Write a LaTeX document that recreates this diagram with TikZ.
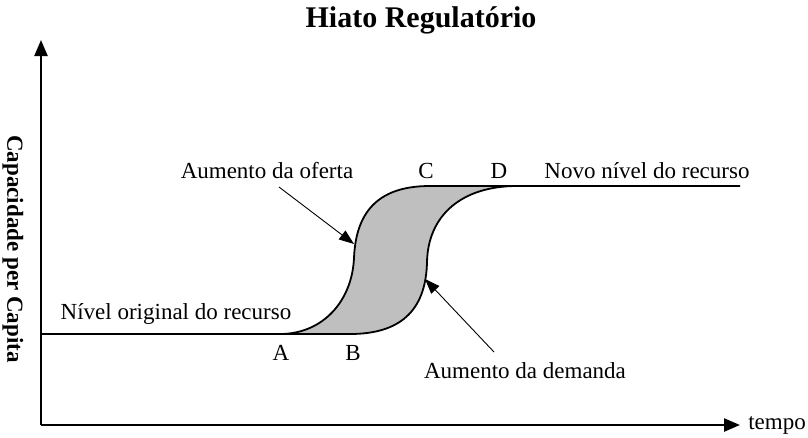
\documentclass[tikz,border=0pt]{standalone}
\usepackage{fontspec}
\setmainfont{Liberation Serif}
\usetikzlibrary{arrows.meta}
\begin{document}
\begin{tikzpicture}[x=1pt,y=-1pt,
  lbl/.style={inner sep=0pt,anchor=base,font=\fontsize{23}{27}\selectfont},
  axis/.style={line width=2.4pt,-{Triangle[length=16pt,width=13pt]}},
  curve/.style={line width=1.8pt},
  pointer/.style={line width=0.9pt,-{Triangle[length=15pt,width=11pt]}}]
\useasboundingbox (0,0) rectangle (808,437);
% coordinates
\coordinate (O) at (41,425);
\coordinate (Ytop) at (41,40);
\coordinate (Xend) at (740,425);
\coordinate (L0) at (41,334);
\coordinate (A) at (280,334);
\coordinate (B0) at (350,334);
\coordinate (C0) at (430,186);
\coordinate (D0) at (517,186);
\coordinate (R0) at (740,186);
% shaded gap
\fill[gray!50] (A) .. controls (322,334) and (352,302) .. (354,258)
  .. controls (356,208) and (382,186) .. (C0) -- (D0)
  .. controls (462,186) and (428,215) .. (427,262)
  .. controls (426,306) and (405,334) .. (B0) -- cycle;
% curves
\draw[curve] (L0) -- (A) .. controls (322,334) and (352,302) .. (354,258)
  .. controls (356,208) and (382,186) .. (C0) -- (D0) -- (R0);
\draw[curve] (A) -- (B0) .. controls (405,334) and (426,306) .. (427,262)
  .. controls (428,215) and (462,186) .. (D0);
% axes
\draw[axis] (O) -- (Ytop);
\draw[axis] (O) -- (Xend);
% labels
\node[inner sep=0pt,anchor=base,font=\fontsize{30}{34}\selectfont\bfseries] (title) at (421,27) {Hiato Regulatório};
\node[inner sep=0pt,rotate=-90,font=\fontsize{23}{27}\selectfont\bfseries] (ylab) at (13,249) {Capacidade per Capita};
\node[lbl] (tempo) at (777,429) {tempo};
\node[lbl] (oferta) at (267,178) {Aumento da oferta};
\node[lbl] (C) at (426,178) {C};
\node[lbl] (D) at (499,178) {D};
\node[lbl] (novo) at (647,178) {Novo nível do recurso};
\node[lbl] (orig) at (176,319) {Nível original do recurso};
\node[lbl] (Alab) at (281,360) {A};
\node[lbl] (Blab) at (353,360) {B};
\node[lbl] (demanda) at (525,378) {Aumento da demanda};
% pointers
\coordinate (ofT) at (279,187);
\coordinate (ofH) at (354,244);
\coordinate (deT) at (494,352);
\coordinate (deH) at (425,279);
\draw[pointer] (ofT) -- (ofH);
\draw[pointer] (deT) -- (deH);
\end{tikzpicture}
\end{document}
